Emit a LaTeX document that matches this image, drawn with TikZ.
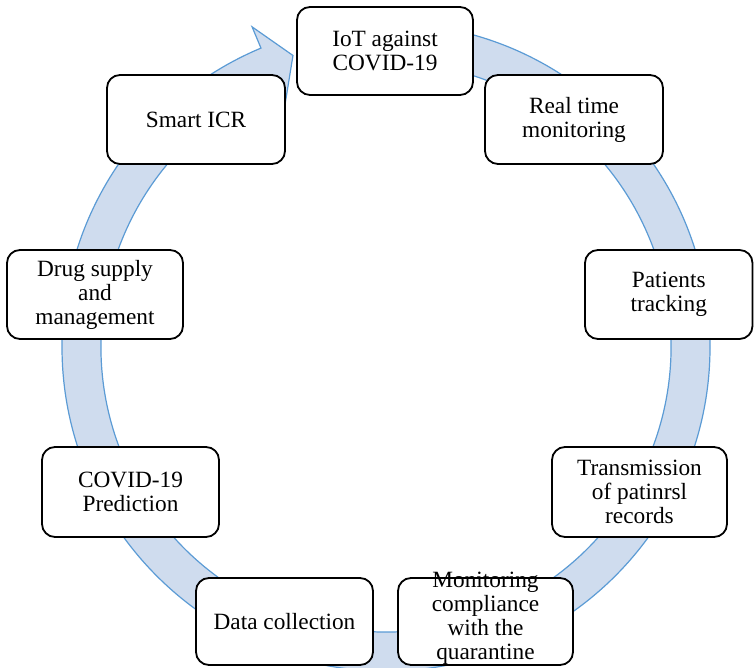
\documentclass[tikz,border=0pt]{standalone}
\usepackage{fontspec}
\setmainfont{Liberation Serif}
\definecolor{bandfill}{RGB}{207,220,238}
\definecolor{bandline}{RGB}{91,155,213}
\tikzset{
  stagebox/.style={draw=black, line width=1.8pt, rounded corners=13pt, fill=white,
    inner sep=2pt, align=center, font=\fontsize{23.3pt}{24pt}\selectfont},
  band/.style={fill=bandfill, draw=bandline, line width=1.2pt, line join=miter}
}
\begin{document}
\begin{tikzpicture}[x=1pt,y=1pt]
\useasboundingbox (0,0) rectangle (754,668);
\begin{scope}[shift={(386,321)}]
  \filldraw[band]
    (90:324pt) arc[start angle=90, end angle=-247.3, radius=324pt]
    -- (-247.3:347pt) -- (-252.3:306pt) -- (-247.3:262pt) -- (-247.3:285pt)
    arc[start angle=-247.3, end angle=90, radius=285pt] -- cycle;
\end{scope}
\node[stagebox, minimum width=176pt, minimum height=88pt] (iot) at (385,617) {IoT against\\COVID-19};
\node[stagebox, minimum width=178pt, minimum height=89pt] (realtime) at (574,548.5) {Real time\\monitoring};
\node[stagebox, minimum width=167.5pt, minimum height=89pt] (patients) at (668.75,373.5) {Patients\\tracking};
\node[stagebox, minimum width=175pt, minimum height=90pt] (transmission) at (639.5,176) {Transmission\\of patinrsl\\records};
\node[stagebox, minimum width=175pt, minimum height=87pt] (monitoring) at (485.5,46.5)
  {\raisebox{-6pt}{\smash{\begin{tabular}{@{}c@{}}Monitoring\\compliance\\with the\\quarantine\end{tabular}}}};
\node[stagebox, minimum width=177pt, minimum height=87pt] (data) at (284.5,46.5) {Data collection};
\node[stagebox, minimum width=177pt, minimum height=90pt] (prediction) at (130.5,176) {COVID-19\\Prediction};
\node[stagebox, minimum width=176pt, minimum height=89pt] (drug) at (95,373.5) {Drug supply\\and\\management};
\node[stagebox, minimum width=178pt, minimum height=89pt] (smart) at (196,548.5) {Smart ICR};
\end{tikzpicture}
\end{document}
